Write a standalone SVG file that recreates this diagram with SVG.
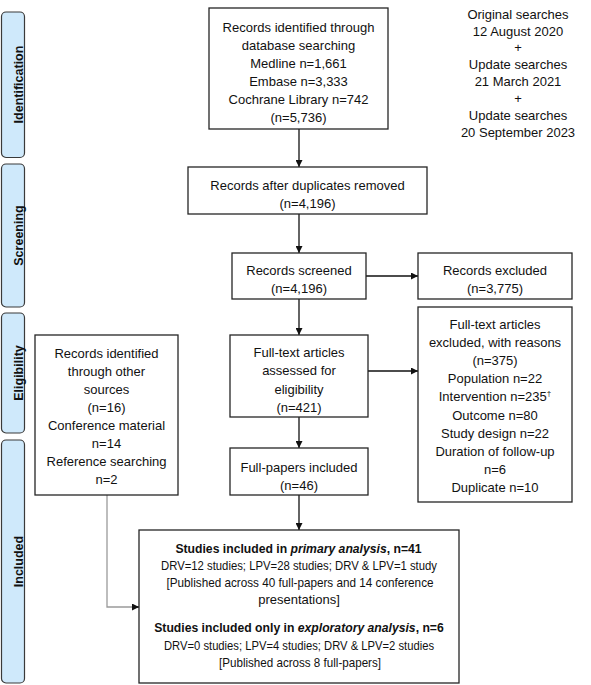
<svg xmlns="http://www.w3.org/2000/svg" width="591" height="685" viewBox="0 0 591 685">
<style>
text{font-family:"Liberation Sans",Arial,sans-serif;font-size:13px;fill:#111;text-anchor:middle}
.b{font-weight:bold;font-size:12.2px}
.i{font-style:italic}
.box{fill:#fff;stroke:#262626;stroke-width:1.3}
.side{fill:#cfe9fb;stroke:#3a3a3a;stroke-width:1.2}
.sl{font-weight:bold;font-size:12.5px}
.c{fill:none;stroke:#111;stroke-width:1.3}
.g{fill:none;stroke:#9a9a9a;stroke-width:1.3}
</style>
<defs>
<marker id="ah" viewBox="0 0 10 10" refX="10" refY="5" markerWidth="7" markerHeight="7" markerUnits="userSpaceOnUse" orient="auto">
<path d="M0,0 L10,5 L0,10 z" fill="#111"/>
</marker>
</defs>
<rect width="591" height="685" fill="#fff"/>

<g id="stage-identification">
<rect class="side" x="1.5" y="12" width="23" height="145.5" rx="4.5"/>
<text class="sl" transform="translate(22.5,84.5) rotate(-90)">Identification</text>
</g>
<g id="stage-screening">
<rect class="side" x="1.5" y="164" width="23" height="143" rx="4.5"/>
<text class="sl" transform="translate(22.5,235.5) rotate(-90)">Screening</text>
</g>
<g id="stage-eligibility">
<rect class="side" x="1.5" y="313" width="23" height="120" rx="4.5"/>
<text class="sl" transform="translate(22.5,373) rotate(-90)">Eligibility</text>
</g>
<g id="stage-included">
<rect class="side" x="1.5" y="440" width="23" height="243" rx="4.5"/>
<text class="sl" transform="translate(22.5,561.5) rotate(-90)">Included</text>
</g>

<g id="connectors">
<line class="c" x1="299" y1="129" x2="299" y2="167" marker-end="url(#ah)"/>
<line class="c" x1="299" y1="214" x2="299" y2="253" marker-end="url(#ah)"/>
<line class="c" x1="366" y1="276" x2="418" y2="276" marker-end="url(#ah)"/>
<line class="c" x1="299" y1="299" x2="299" y2="335" marker-end="url(#ah)"/>
<line class="c" x1="368" y1="371" x2="418" y2="371" marker-end="url(#ah)"/>
<line class="c" x1="299" y1="417" x2="299" y2="448" marker-end="url(#ah)"/>
<line class="c" x1="299" y1="495" x2="299" y2="530" marker-end="url(#ah)"/>
<polyline class="g" points="107,495 107,607 138,607"/>
<line class="c" x1="133" y1="607" x2="139" y2="607" marker-end="url(#ah)" stroke-width="0.1"/>
</g>

<g id="records-identified">
<rect class="box" x="209" y="8" width="179" height="121"/>
<text x="298.5" y="31.5">Records identified through</text>
<text x="298.5" y="49.5">database searching</text>
<text x="298.5" y="67.5">Medline n=1,661</text>
<text x="298.5" y="85.5">Embase n=3,333</text>
<text x="298.5" y="103.5">Cochrane Library n=742</text>
<text x="298.5" y="121.5">(n=5,736)</text>
</g>

<g id="search-dates">
<text x="518" y="18.5">Original searches</text>
<text x="518" y="35.5">12 August 2020</text>
<text x="518" y="52">+</text>
<text x="518" y="69">Update searches</text>
<text x="518" y="86">21 March 2021</text>
<text x="518" y="103">+</text>
<text x="518" y="120">Update searches</text>
<text x="518" y="137">20 September 2023</text>
</g>

<g id="after-duplicates">
<rect class="box" x="188" y="167" width="239" height="47"/>
<text x="307.5" y="189.5">Records after duplicates removed</text>
<text x="307.5" y="207.5">(n=4,196)</text>
</g>

<g id="records-screened">
<rect class="box" x="232" y="253" width="134" height="46"/>
<text x="299" y="274.5">Records screened</text>
<text x="299" y="292.5">(n=4,196)</text>
</g>

<g id="records-excluded">
<rect class="box" x="418" y="253" width="154" height="46"/>
<text x="495" y="274.5">Records excluded</text>
<text x="495" y="292.5">(n=3,775)</text>
</g>

<g id="fulltext-assessed">
<rect class="box" x="230" y="335" width="138" height="82"/>
<text x="299" y="356.5">Full-text articles</text>
<text x="299" y="375">assessed for</text>
<text x="299" y="393.5">eligibility</text>
<text x="299" y="411.5">(n=421)</text>
</g>

<g id="fulltext-excluded">
<rect class="box" x="418" y="307" width="154" height="195"/>
<text x="495" y="328.5">Full-text articles</text>
<text x="495" y="346.7">excluded, with reasons</text>
<text x="495" y="364.9">(n=375)</text>
<text x="495" y="383.1">Population n=22</text>
<text x="495" y="401.3">Intervention n=235<tspan font-size="8" dy="-5">†</tspan></text>
<text x="495" y="419.5">Outcome n=80</text>
<text x="495" y="437.7">Study design n=22</text>
<text x="495" y="455.9">Duration of follow-up</text>
<text x="495" y="474.1">n=6</text>
<text x="495" y="492.3">Duplicate n=10</text>
</g>

<g id="other-sources">
<rect class="box" x="35" y="335" width="143" height="160"/>
<text x="106.5" y="357.5">Records identified</text>
<text x="106.5" y="375.6">through other</text>
<text x="106.5" y="393.7">sources</text>
<text x="106.5" y="411.8">(n=16)</text>
<text x="106.5" y="429.9">Conference material</text>
<text x="106.5" y="448">n=14</text>
<text x="106.5" y="466.1">Reference searching</text>
<text x="106.5" y="484.2">n=2</text>
</g>

<g id="full-papers-included">
<rect class="box" x="230" y="448" width="138" height="47"/>
<text x="299" y="471.5">Full-papers included</text>
<text x="299" y="489.5">(n=46)</text>
</g>

<g id="studies-included">
<rect class="box" x="139" y="530" width="320" height="153"/>
<text class="b" x="298.5" y="552.5">Studies included in <tspan class="i">primary analysis</tspan>, n=41</text>
<text x="299" y="569.5" textLength="276" lengthAdjust="spacingAndGlyphs">DRV=12 studies; LPV=28 studies; DRV &amp; LPV=1 study</text>
<text x="300" y="586.5" textLength="267" lengthAdjust="spacingAndGlyphs">[Published across 40 full-papers and 14 conference</text>
<text x="299" y="603.5">presentations]</text>
<text class="b" x="299" y="631.5">Studies included only in <tspan class="i">exploratory analysis</tspan>, n=6</text>
<text x="299" y="649.5" textLength="270" lengthAdjust="spacingAndGlyphs">DRV=0 studies; LPV=4 studies; DRV &amp; LPV=2 studies</text>
<text x="300" y="666.5" textLength="162" lengthAdjust="spacingAndGlyphs">[Published across 8 full-papers]</text>
</g>
</svg>
